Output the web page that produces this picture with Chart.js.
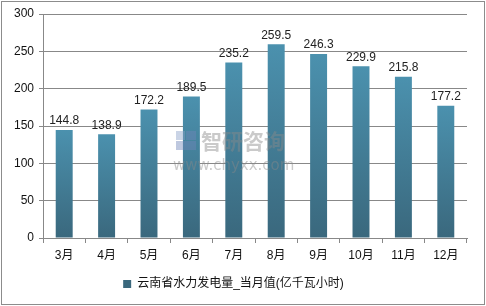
<!DOCTYPE html>
<html>
<head>
<meta charset="utf-8">
<script src="https://cdn.jsdelivr.net/npm/chart.js@4/dist/chart.umd.min.js"></script>
<style>
  html, body { margin: 0; padding: 0; background: #fff; }
  #wrap { width: 486px; height: 306px; position: relative; }
</style>
</head>
<body>
<div id="wrap"><canvas id="c" width="486" height="306"></canvas></div>
<script>
var months = ['3月', '4月', '5月', '6月', '7月', '8月', '9月', '10月', '11月', '12月'];
var hydroPower = [144.8, 138.9, 172.2, 189.5, 235.2, 259.5, 246.3, 229.9, 215.8, 177.2];
var yTicks = [0, 50, 100, 150, 200, 250, 300];
var seriesName = '云南省水力发电量_当月值(亿千瓦小时)';

var FONT = '"Liberation Sans", "Noto Sans CJK SC", sans-serif';

// gradient per bar, lighter at the top
function barFill(ctx) {
    var chart = ctx.chart;
    var area = chart.chartArea;
    if (!area || ctx.type !== 'data') return '#437d97';
    var y = chart.scales.y;
    var top = y.getPixelForValue(ctx.raw);
    var g = chart.ctx.createLinearGradient(0, top, 0, area.bottom);
    g.addColorStop(0, '#4b91ae');
    g.addColorStop(1, '#3a687d');
    return g;
}

var extras = {
    id: 'extras',
    afterDatasetsDraw: function (chart) {
        var c = chart.ctx;
        var meta = chart.getDatasetMeta(0);
        c.save();
        c.font = '12px ' + FONT;
        c.fillStyle = '#222';
        c.textAlign = 'center';
        c.textBaseline = 'bottom';
        meta.data.forEach(function (bar, i) {
            c.fillText(hydroPower[i].toFixed(1), bar.x, bar.y - 3);
        });

        // watermark
        c.globalAlpha = 0.45;
        c.fillStyle = '#8aa0c8';
        c.fillRect(176, 131, 9, 9);
        c.fillStyle = '#6f86b8';
        c.fillRect(186, 131, 10, 9);
        c.fillRect(176, 141, 20, 9);
        c.fillStyle = '#8a8a8a';
        c.font = 'bold 21px "Noto Sans CJK SC", sans-serif';
        c.textAlign = 'left';
        c.textBaseline = 'middle';
        c.fillText('智研咨询', 201, 141);
        c.font = '15px "DejaVu Sans", sans-serif';
        c.fillText('www.chyxx.com', 173, 166);
        c.restore();

        // outer frame
        c.save();
        c.strokeStyle = '#8c8c8c';
        c.lineWidth = 1;
        c.strokeRect(1.5, 1.5, chart.width - 3, chart.height - 3);
        c.restore();
    }
};

new Chart(document.getElementById('c'), {
    type: 'bar',
    data: {
        labels: months,
        datasets: [{
            label: seriesName,
            data: hydroPower,
            backgroundColor: barFill,
            borderWidth: 0,
            barPercentage: 0.4,
            categoryPercentage: 1.0
        }]
    },
    options: {
        responsive: false,
        animation: false,
        devicePixelRatio: 1,
        layout: { padding: { left: 0, right: 19, top: 14, bottom: 6 } },
        plugins: {
            tooltip: { enabled: false },
            legend: {
                position: 'bottom',
                labels: {
                    boxWidth: 8,
                    boxHeight: 8,
                    color: '#111',
                    font: { family: FONT, size: 12 },
                    padding: 8
                }
            }
        },
        scales: {
            x: {
                grid: { display: true, drawOnChartArea: false, color: '#888', tickLength: 5, offset: true },
                border: { color: '#888' },
                ticks: { color: '#111', font: { family: FONT, size: 12 }, padding: 5, maxRotation: 0 },
                afterFit: function (s) { s.height = 32; }
            },
            y: {
                min: 0,
                max: 300,
                afterBuildTicks: function (s) { s.ticks = yTicks.map(function (v) { return { value: v }; }); },
                grid: { color: '#888', tickLength: 4 },
                border: { color: '#888' },
                ticks: { color: '#111', font: { family: FONT, size: 12 }, padding: 5 },
                afterFit: function (s) { s.width = 43; }
            }
        }
    },
    plugins: [extras]
});
</script>
</body>
</html>
